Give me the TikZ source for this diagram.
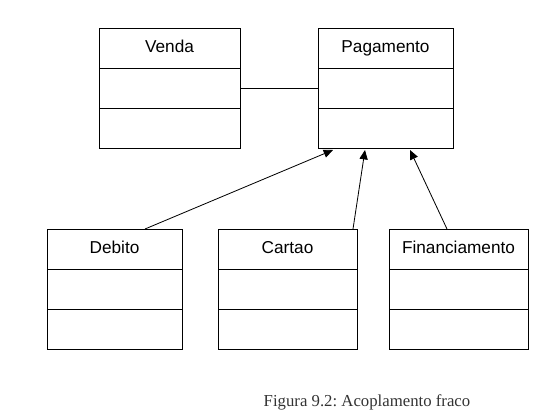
\documentclass[tikz,border=0pt]{standalone}
\usepackage{fontspec}
\setmainfont{Liberation Sans}
\newfontfamily\captionfont{Liberation Serif}
\usetikzlibrary{positioning,calc,arrows.meta}
\frenchspacing
\begin{document}
\begin{tikzpicture}[x=0.03cm,y=0.03cm,node distance=0pt,line width=0.8pt,
    class head/.style={draw,rectangle,inner sep=0pt,outer sep=0pt,minimum height=1.2cm,text height=0.72em,text depth=0pt,font=\fontsize{14.7}{17}\selectfont},
    class part/.style={draw,rectangle,inner sep=0pt,outer sep=0pt,minimum height=1.2cm},
    generalization/.style={-{Triangle[length=8pt,width=7pt]},line width=0.7pt}]
                \useasboundingbox (0,0) rectangle (556,416);
                % classes on top
                \node[class head,minimum width=4.23cm] at (169.5,368) (venda) {Venda};
                \node[class part,minimum width=4.23cm,below=of venda] (venda attrs) {};
                \node[class part,minimum width=4.23cm,below=of venda attrs] (venda ops) {};
                \node[class head,minimum width=4.05cm] at (385.5,368) (pagamento) {Pagamento};
                \node[class part,minimum width=4.05cm,below=of pagamento] (pagamento attrs) {};
                \node[class part,minimum width=4.05cm,below=of pagamento attrs] (pagamento ops) {};
                % subclasses
                \node[class head,minimum width=4.05cm] at (114.5,167) (debito) {Debito};
                \node[class part,minimum width=4.05cm,below=of debito] (debito attrs) {};
                \node[class part,minimum width=4.05cm,below=of debito attrs] (debito ops) {};
                \node[class head,minimum width=4.17cm] at (287.5,167) (cartao) {Cartao};
                \node[class part,minimum width=4.17cm,below=of cartao] (cartao attrs) {};
                \node[class part,minimum width=4.17cm,below=of cartao attrs] (cartao ops) {};
                \node[class head,minimum width=4.17cm] at (458.5,167) (financiamento) {Financiamento};
                \node[class part,minimum width=4.17cm,below=of financiamento] (financiamento attrs) {};
                \node[class part,minimum width=4.17cm,below=of financiamento attrs] (financiamento ops) {};
                % association and inheritance
                \draw (venda attrs) -- (pagamento attrs);
                \draw[generalization] ($(debito.north west)+(98,0)$) -- ($(pagamento ops.south west)+(15,-2)$);
                \draw[generalization] ($(cartao.north east)+(-4,0)$) -- ($(pagamento ops.south west)+(47,-2)$);
                \draw[generalization] ($(financiamento.north west)+(58,0)$) -- ($(pagamento ops.south west)+(92,-2)$);
                % caption
                \node[font=\captionfont\fontsize{14.3}{17}\selectfont,text=black!80] at (367,14) (caption) {Figura 9.2: Acoplamento fraco};
\end{tikzpicture}
\end{document}
